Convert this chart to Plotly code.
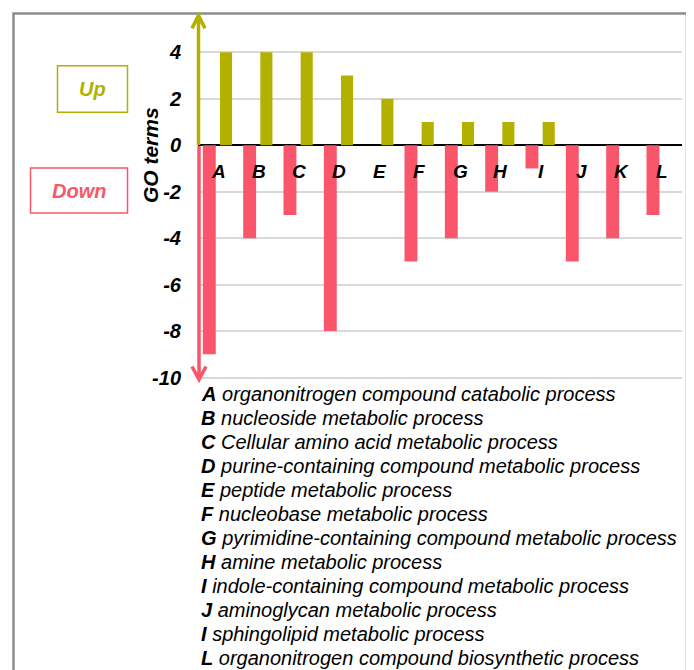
import plotly.graph_objects as go

categories = ["A", "B", "C", "D", "E", "F", "G", "H", "I", "J", "K", "L"]
up_values = [4, 4, 4, 3, 2, 1, 1, 1, 1, 0, 0, 0]
down_values = [-9, -4, -3, -8, 0, -5, -4, -2, -1, -5, -4, -3]
tick_values = [4, 2, 0, -2, -4, -6, -8, -10]
descriptions = [
    ("A", "organonitrogen compound catabolic process"),
    ("B", "nucleoside metabolic process"),
    ("C", "Cellular amino acid metabolic process"),
    ("D", "purine-containing compound metabolic process"),
    ("E", "peptide metabolic process"),
    ("F", "nucleobase metabolic process"),
    ("G", "pyrimidine-containing compound metabolic process"),
    ("H", "amine metabolic process"),
    ("I", "indole-containing compound metabolic process"),
    ("J", "aminoglycan metabolic process"),
    ("I", "sphingolipid metabolic process"),
    ("L", "organonitrogen compound biosynthetic process"),
]

OLIVE = "#B3B000"
PINK = "#F9566B"
FONT = "Arial, Liberation Sans, sans-serif"

OFF = 8  # page body margin in the browser
W, H = 694 - OFF, 670 - OFF
# plot area in reference (window) pixels
L, R = 198, 682
T, B = 13.6, 381.5


def px(x):
    return (x - L) / (R - L)


def py(y):
    return (B - y) / (B - T)


fig = go.Figure()
fig.add_trace(go.Bar(x=categories, y=down_values, offset=-0.38, width=0.32,
                     marker=dict(color=PINK, line=dict(width=0)), showlegend=False))
fig.add_trace(go.Bar(x=categories, y=up_values, offset=0.045, width=0.30,
                     marker=dict(color=OLIVE, line=dict(width=0)), showlegend=False))

shapes = []
shapes.append(dict(type="rect", xref="paper", yref="paper",
                   x0=px(13.5), x1=px(687), y0=py(700), y1=py(13),
                   line=dict(color="#8C8C8C", width=2.5), fillcolor="rgba(0,0,0,0)", layer="below"))
shapes.append(dict(type="path", xref="paper", yref="paper",
                   path=f"M {px(198.5)},{py(145)} L {px(198.5)},{py(15)} "
                        f"M {px(192)},{py(28)} L {px(198.5)},{py(15)} L {px(205)},{py(28)}",
                   line=dict(color=OLIVE, width=3.5)))
shapes.append(dict(type="path", xref="paper", yref="paper",
                   path=f"M {px(199)},{py(146)} L {px(199)},{py(380)} "
                        f"M {px(192)},{py(367)} L {px(199)},{py(380)} L {px(206)},{py(367)}",
                   line=dict(color=PINK, width=3.5)))
shapes.append(dict(type="rect", xref="paper", yref="paper",
                   x0=px(57.5), x1=px(127.5), y0=py(112), y1=py(65.5),
                   line=dict(color=OLIVE, width=1.5)))
shapes.append(dict(type="rect", xref="paper", yref="paper",
                   x0=px(30.5), x1=px(127.5), y0=py(213), y1=py(168),
                   line=dict(color=PINK, width=1.5)))

annotations = []
annotations.append(dict(text="<b><i>Up</i></b>", xref="paper", yref="paper",
                        x=px(92.5), y=py(89), xanchor="center", yanchor="middle", showarrow=False,
                        font=dict(family=FONT, size=20, color=OLIVE)))
annotations.append(dict(text="<b><i>Down</i></b>", xref="paper", yref="paper",
                        x=px(79), y=py(191), xanchor="center", yanchor="middle", showarrow=False,
                        font=dict(family=FONT, size=20, color=PINK)))
annotations.append(dict(text="<b><i>GO terms</i></b>", xref="paper", yref="paper",
                        x=px(150), y=py(155), xanchor="center", yanchor="middle",
                        showarrow=False, textangle=-90,
                        font=dict(family=FONT, size=21, color="black")))
for c in categories:
    annotations.append(dict(text=f"<b><i>{c}</i></b>", x=c, y=-1.12, xref="x", yref="y",
                            xanchor="center", yanchor="middle",
                            showarrow=False, font=dict(family=FONT, size=19, color="black")))
for i, (letter, desc) in enumerate(descriptions):
    annotations.append(dict(text=f"<b><i>{letter}</i></b> <i>{desc}</i>",
                            xref="paper", yref="paper", x=px(199), y=py(395 + 24 * i),
                            xanchor="left", yanchor="middle", showarrow=False,
                            font=dict(family=FONT, size=20, color="black")))

fig.update_layout(
    width=W, height=H,
    margin=dict(l=L - OFF, r=(694 - R), t=T - OFF, b=(670 - B), pad=0),
    paper_bgcolor="white", plot_bgcolor="white",
    barmode="overlay",
    shapes=shapes, annotations=annotations,
    xaxis=dict(type="category", range=[-0.5, 11.5], showticklabels=False,
               showgrid=False, zeroline=False, showline=False, fixedrange=True),
    yaxis=dict(range=[-10.15, 5.65], tickvals=tick_values,
               ticktext=[str(v) for v in tick_values],
               showgrid=True, gridcolor="#D9D9D9", gridwidth=1.5,
               zeroline=True, zerolinecolor="black", zerolinewidth=2,
               showline=False, ticks="", ticklabelstandoff=16,
               tickfont=dict(family=FONT, size=20, color="black", weight="bold", style="italic")),
)

fig.write_html("out.html")
